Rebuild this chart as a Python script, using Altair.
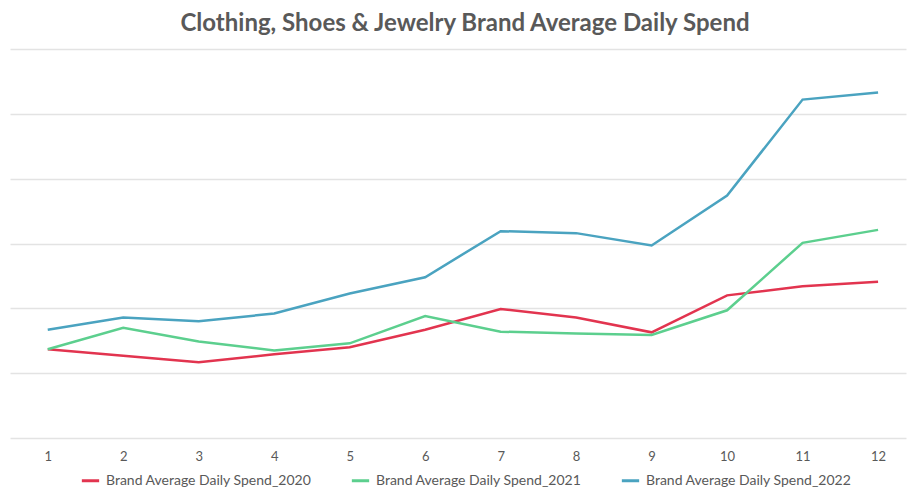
import altair as alt
import pandas as pd

months = list(range(1, 13))
spend_2020 = [1.37, 1.27, 1.17, 1.29, 1.40, 1.67, 1.99, 1.86, 1.63, 2.20, 2.34, 2.41]
spend_2021 = [1.37, 1.70, 1.49, 1.35, 1.46, 1.88, 1.64, 1.61, 1.59, 1.97, 3.01, 3.21]
spend_2022 = [1.67, 1.86, 1.80, 1.92, 2.23, 2.48, 3.19, 3.16, 2.97, 3.74, 5.22, 5.33]
series_names = ["Brand Average Daily Spend_2020", "Brand Average Daily Spend_2021", "Brand Average Daily Spend_2022"]
colors = ["#E2344F", "#5CCF8E", "#4AA3C0"]

rows = []
for name, vals in zip(series_names, [spend_2020, spend_2021, spend_2022]):
    for m, v in zip(months, vals):
        rows.append({"month": m, "value": v, "series": name})
df = pd.DataFrame(rows)

chart = alt.Chart(df).mark_line(strokeWidth=2.5).encode(
    x=alt.X("month:Q",
            scale=alt.Scale(domain=[0.5, 12.37], nice=False, zero=False),
            axis=alt.Axis(values=months, title=None, grid=False, domain=False, ticks=False,
                          labelFont="Lato", labelFontSize=13, labelColor="#595959",
                          labelPadding=12, format="d")),
    y=alt.Y("value:Q",
            scale=alt.Scale(domain=[0, 6], nice=False),
            axis=alt.Axis(values=[0, 1, 2, 3, 4, 5, 6], title=None, labels=False, ticks=False,
                          domain=False, grid=True, gridColor="#e3e3e3", gridWidth=1.5)),
    color=alt.Color("series:N",
                    scale=alt.Scale(domain=series_names, range=colors),
                    legend=alt.Legend(title=None, orient="none", legendX=70, legendY=421,
                                      direction="horizontal", columns=3, columnPadding=33,
                                      symbolType="stroke", symbolSize=300, symbolStrokeWidth=3,
                                      labelFont="Lato", labelFontSize=14, labelColor="#595959",
                                      labelOffset=5, labelLimit=400)),
).properties(
    width=896,
    height=389,
    title=alt.TitleParams("Clothing, Shoes & Jewelry Brand Average Daily Spend",
                          font="Lato", fontSize=24, fontWeight="bold", color="#595959",
                          anchor="middle", offset=13, dx=7),
    autosize=alt.AutoSizeParams(type="none"),
    padding={"left": 10, "top": 49, "right": 2, "bottom": 55},
).configure(background="white").configure_view(stroke=None)

chart.save("out.html", embed_options={"renderer": "svg", "actions": False})
